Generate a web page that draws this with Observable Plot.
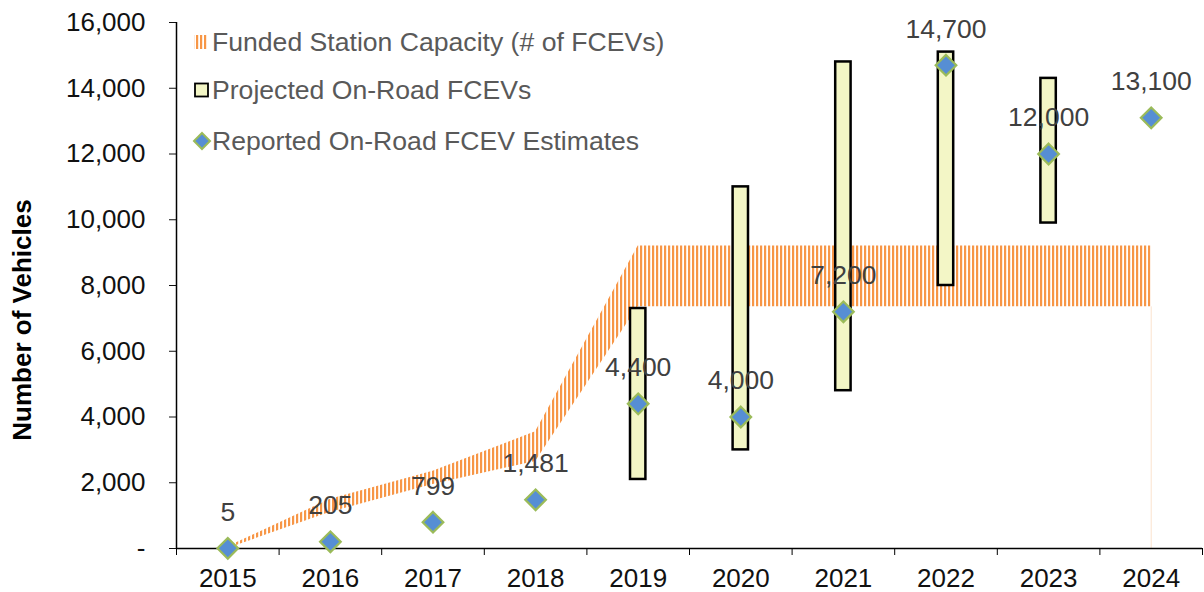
<!DOCTYPE html>
<html>
<head>
<meta charset="utf-8">
<script src="https://cdn.jsdelivr.net/npm/d3@7"></script>
<script src="https://cdn.jsdelivr.net/npm/@observablehq/plot@0.6"></script>
<style>
  body { margin: 0; background: #fff; }
  #chart { width: 1204px; height: 592px; }
</style>
</head>
<body>
<div id="chart"></div>
<script>
// ---- Data ----
const years = [2015, 2016, 2017, 2018, 2019, 2020, 2021, 2022, 2023, 2024];
const capacityLow  = [0,  1100, 1950, 2650, 7350, 7350, 7350, 7350, 7350, 7350];
const capacityHigh = [50, 1500, 2350, 3550, 9200, 9200, 9200, 9200, 9200, 9200];
const projYears = [2019, 2020, 2021, 2022, 2023];
const projLow   = [2100, 3000, 4800, 8000, 9900];
const projHigh  = [7300, 11000, 14800, 15100, 14300];
const reported  = [5, 205, 799, 1481, 4400, 4000, 7200, 14700, 12000, 13100];
const yTicks = [0, 2000, 4000, 6000, 8000, 10000, 12000, 14000, 16000];
const legendLabels = [
  "Funded Station Capacity (# of FCEVs)",
  "Projected On-Road FCEVs",
  "Reported On-Road FCEV Estimates"
];
const yTitle = "Number of Vehicles";

// ---- Tables ----
const capData = years.map((year, i) => ({year, low: capacityLow[i], high: capacityHigh[i]}));
const projData = projYears.map((year, i) => ({year, low: projLow[i], high: projHigh[i]}));
const repData = years.map((year, i) => ({year, value: reported[i]}));
const boundaries = d3.range(years[0] - 0.5, years[years.length - 1] + 1, 1);

const FONT = "'Liberation Sans', Arial, sans-serif";
const fmt = d3.format(",");
const boxHalf = 0.075;

const plot = Plot.plot({
  width: 1204,
  height: 592,
  marginLeft: 176,
  marginRight: 2,
  marginTop: 22,
  marginBottom: 44,
  style: {fontFamily: FONT, background: "#fff", overflow: "visible"},
  x: {type: "linear", domain: [years[0] - 0.5, years[years.length - 1] + 0.5]},
  y: {domain: [0, 16000]},
  marks: [
    // funded station capacity band (striped)
    Plot.areaY(capData, {x: "year", y1: "low", y2: "high", fill: "url(#fcevStripes)", curve: "linear"}),
    Plot.ruleX(capData.slice(-1), {x: "year", y1: 0, y2: "low", stroke: "#fbe2cd", strokeWidth: 1}),
    // projected on-road boxes
    Plot.rect(projData, {
      x1: d => d.year - boxHalf, x2: d => d.year + boxHalf,
      y1: "low", y2: "high",
      fill: "#f3f6c6", stroke: "#000", strokeWidth: 2.5
    }),
    // axes
    Plot.axisY({
      ticks: yTicks, tickSize: 7, tickPadding: 24, fontSize: 26,
      tickFormat: d => d === 0 ? "-" : fmt(d), label: null, color: "#111"
    }),
    Plot.axisX({ticks: boundaries, tickSize: 7, tickFormat: () => "", label: null}),
    Plot.axisX({ticks: years, tickSize: 0, tickPadding: 20.5, fontSize: 26, tickFormat: d => String(d), label: null, color: "#111"}),
    Plot.ruleY([0], {stroke: "#000", strokeWidth: 1.5}),
    Plot.ruleX([years[0] - 0.5], {stroke: "#000", strokeWidth: 1.5}),
    // reported estimates
    Plot.dot(repData, {
      x: "year", y: "value", symbol: "diamond2", r: 9.3,
      fill: "#568ed4", stroke: "#9bbb59", strokeWidth: 2.2
    }),
    Plot.text(repData, {
      x: "year", y: "value", text: d => fmt(d.value), dy: -36,
      fontSize: 26.5, fill: "#404040"
    })
  ]
});

const svg = d3.select(plot);
// stripe pattern
const defs = svg.insert("defs", ":first-child");
const pat = defs.append("pattern")
  .attr("id", "fcevStripes")
  .attr("patternUnits", "userSpaceOnUse")
  .attr("width", 4).attr("height", 4);
pat.append("rect").attr("width", 2.2).attr("height", 4).attr("fill", "#F79646");

// y axis title
svg.append("text")
  .attr("transform", "translate(30.5,320) rotate(-90)")
  .attr("text-anchor", "middle")
  .attr("font-family", FONT)
  .attr("font-size", 26)
  .attr("font-weight", "bold")
  .attr("fill", "#000")
  .text(yTitle);

// legend
const lg = svg.append("g")
  .attr("font-family", FONT).attr("font-size", 26.6).attr("fill", "#595959")
  .attr("text-anchor", "start");
const rowY = [42, 90, 141];
lg.append("rect").attr("x", 194).attr("y", rowY[0] - 7).attr("width", 14).attr("height", 14).attr("fill", "url(#fcevStripes)");
lg.append("rect").attr("x", 195).attr("y", rowY[1] - 6.5).attr("width", 13).attr("height", 13)
  .attr("fill", "#f3f6c6").attr("stroke", "#000").attr("stroke-width", 1.8);
lg.append("path").attr("d", `M202,${rowY[2] - 8}L210,${rowY[2]}L202,${rowY[2] + 8}L194,${rowY[2]}Z`)
  .attr("fill", "#568ed4").attr("stroke", "#9bbb59").attr("stroke-width", 2);
legendLabels.forEach((t, i) => {
  lg.append("text").attr("x", 212).attr("y", rowY[i]).attr("dy", "0.35em")
    .attr("text-anchor", "start").text(t);
});

document.getElementById("chart").appendChild(plot);
</script>
</body>
</html>
